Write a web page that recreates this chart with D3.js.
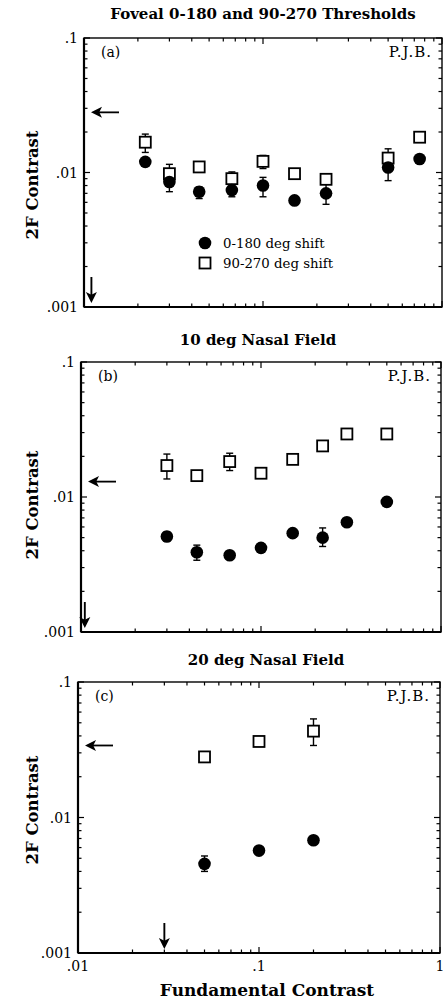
<!DOCTYPE html>
<html>
<head>
<meta charset="utf-8">
<script src="https://cdn.jsdelivr.net/npm/d3@7"></script>
<style>
  html, body { margin: 0; padding: 0; background: #fff; }
  svg { display: block; }
  text { fill: #000; }
</style>
</head>
<body>
<svg id="chart" width="443" height="1000"></svg>
<script>
// ---------- data ----------
const panelTitles = ["Foveal 0-180 and 90-270 Thresholds", "10 deg Nasal Field", "20 deg Nasal Field"];
const panelTags = ["(a)", "(b)", "(c)"];
const observer = "P.J.B.";
const seriesNames = ["0-180 deg shift", "90-270 deg shift"];
const xTickValues = [0.01, 0.1, 1];
const xTickLabels = [".01", ".1", "1"];
const yTickValues = [0.001, 0.01, 0.1];
const yTickLabels = [".001", ".01", ".1"];

// (a) fovea
const fundA = [0.022, 0.03, 0.044, 0.067, 0.1, 0.15, 0.225, 0.5, 0.75];
const shift0A = [0.012, 0.0085, 0.0072, 0.0074, 0.0080, 0.0062, 0.0070, 0.0109, 0.0126];
const shift0LoA = [0.0113, 0.0072, 0.0064, 0.0066, 0.0066, 0.0059, 0.0058, 0.0087, 0.0121];
const shift0HiA = [0.0127, 0.0098, 0.0078, 0.0079, 0.0092, 0.0065, 0.0082, 0.0123, 0.0131];
const shift90A = [0.0168, 0.0098, 0.011, 0.0090, 0.0121, 0.0098, 0.0089, 0.0128, 0.0183];
const shift90LoA = [0.0141, 0.0085, 0.0105, 0.0082, 0.0107, 0.0094, 0.0085, 0.0110, 0.0175];
const shift90HiA = [0.0193, 0.0115, 0.0115, 0.0101, 0.0134, 0.0102, 0.0093, 0.0150, 0.0190];
const thresh2FA = 0.028;
const threshFundA = 0.011;

// (b) 10 deg nasal
const fundB = [0.03, 0.044, 0.067, 0.1, 0.15, 0.22, 0.3, 0.5];
const shift0B = [0.0051, 0.0039, 0.0037, 0.0042, 0.0054, 0.0050, 0.0065, 0.0092];
const shift0LoB = [0.0047, 0.0034, 0.0035, 0.0039, 0.0052, 0.0043, 0.0062, 0.0087];
const shift0HiB = [0.0055, 0.0044, 0.0039, 0.0045, 0.0057, 0.0059, 0.0068, 0.0097];
const shift90B = [0.0171, 0.0144, 0.0183, 0.0150, 0.0190, 0.0239, 0.0293, 0.0293];
const shift90LoB = [0.0136, 0.0135, 0.0157, 0.0145, 0.0183, 0.0229, 0.0283, 0.0283];
const shift90HiB = [0.0208, 0.0152, 0.0211, 0.0155, 0.0197, 0.0249, 0.0303, 0.0303];
const thresh2FB = 0.013;
const threshFundB = 0.0105;

// (c) 20 deg nasal
const fundC = [0.05, 0.1, 0.2];
const shift0C = [0.00455, 0.0057, 0.0068];
const shift0LoC = [0.0040, 0.0054, 0.0065];
const shift0HiC = [0.0052, 0.0060, 0.0071];
const shift90C = [0.028, 0.0364, 0.0434];
const shift90LoC = [0.0268, 0.0350, 0.0340];
const shift90HiC = [0.0292, 0.0380, 0.0534];
const thresh2FC = 0.034;
const threshFundC = 0.03;

// ---------- layout ----------
const panels = [
  { left: 84, right: 442, top: 38, bottom: 307, titleX: 263, titleY: 19, labelY: 185, legend: true,
    x: fundA, s0: shift0A, s0lo: shift0LoA, s0hi: shift0HiA, s90: shift90A, s90lo: shift90LoA, s90hi: shift90HiA,
    t2f: thresh2FA, tf: threshFundA, xLabels: false },
  { left: 81, right: 441, top: 362, bottom: 632, titleX: 258, titleY: 345, labelY: 505, legend: false,
    x: fundB, s0: shift0B, s0lo: shift0LoB, s0hi: shift0HiB, s90: shift90B, s90lo: shift90LoB, s90hi: shift90HiB,
    t2f: thresh2FB, tf: threshFundB, xLabels: false },
  { left: 78, right: 440, top: 682, bottom: 953, titleX: 266, titleY: 665, labelY: 810, legend: false,
    x: fundC, s0: shift0C, s0lo: shift0LoC, s0hi: shift0HiC, s90: shift90C, s90lo: shift90LoC, s90hi: shift90HiC,
    t2f: thresh2FC, tf: threshFundC, xLabels: true }
];

const serif = "'DejaVu Serif', 'Liberation Serif', serif";
const svg = d3.select("#chart");

function arrowHead(g, tipX, tipY, dir) {
  // filled arrowhead; dir = "left" or "down"
  const L = 11, W = 5.5;
  const pts = dir === "left"
    ? [[tipX, tipY], [tipX + L, tipY - W], [tipX + L * 0.75, tipY], [tipX + L, tipY + W]]
    : [[tipX, tipY], [tipX - W, tipY - L], [tipX, tipY - L * 0.75], [tipX + W, tipY - L]];
  g.append("path").attr("d", d3.line()(pts) + "Z").attr("fill", "#000");
}

panels.forEach((p, i) => {
  const x = d3.scaleLog().domain([0.01, 1]).range([p.left, p.right]);
  const y = d3.scaleLog().domain([0.001, 0.1]).range([p.bottom, p.top]);
  const g = svg.append("g");

  // title
  g.append("text").attr("x", p.titleX).attr("y", p.titleY)
    .attr("text-anchor", "middle").attr("font-family", serif)
    .attr("font-weight", "bold").attr("font-size", 15)
    .text(panelTitles[i]);

  // frame
  g.append("rect").attr("x", p.left).attr("y", p.top)
    .attr("width", p.right - p.left).attr("height", p.bottom - p.top)
    .attr("fill", "none").attr("stroke", "#000").attr("stroke-width", 1.4);
  g.append("line").attr("x1", p.left).attr("x2", p.left).attr("y1", p.top).attr("y2", p.bottom)
    .attr("stroke", "#000").attr("stroke-width", 2.2);
  g.append("line").attr("x1", p.left).attr("x2", p.right).attr("y1", p.bottom).attr("y2", p.bottom)
    .attr("stroke", "#000").attr("stroke-width", 2.2);

  // inward ticks on all four sides
  const xt = x.ticks();
  const yt = y.ticks();
  const isMajor = v => Math.abs(Math.log10(v) - Math.round(Math.log10(v))) < 1e-6;
  const tk = g.append("g").attr("stroke", "#000").attr("stroke-width", 1.2);
  xt.forEach(v => {
    const len = isMajor(v) ? 6 : 3.5;
    tk.append("line").attr("x1", x(v)).attr("x2", x(v)).attr("y1", p.bottom).attr("y2", p.bottom - len);
    tk.append("line").attr("x1", x(v)).attr("x2", x(v)).attr("y1", p.top).attr("y2", p.top + len);
  });
  yt.forEach(v => {
    const len = isMajor(v) ? 6 : 3.5;
    tk.append("line").attr("x1", p.left).attr("x2", p.left + len).attr("y1", y(v)).attr("y2", y(v));
    tk.append("line").attr("x1", p.right).attr("x2", p.right - len).attr("y1", y(v)).attr("y2", y(v));
  });

  // y tick labels
  yTickValues.forEach((v, k) => {
    g.append("text").attr("x", p.left - 6).attr("y", y(v) + 5)
      .attr("text-anchor", "end").attr("font-family", serif).attr("font-size", 14)
      .text(yTickLabels[k]);
  });
  if (p.xLabels) {
    xTickValues.forEach((v, k) => {
      g.append("text").attr("x", x(v)).attr("y", p.bottom + 18)
        .attr("text-anchor", "middle").attr("font-family", serif).attr("font-size", 14)
        .text(xTickLabels[k]);
    });
  }

  // y axis title
  g.append("text")
    .attr("transform", `translate(${38},${p.labelY}) rotate(-90)`)
    .attr("text-anchor", "middle").attr("font-family", serif)
    .attr("font-weight", "bold").attr("font-size", 16.5)
    .text("2F Contrast");

  // inner labels
  g.append("text").attr("x", p.left + 17).attr("y", p.top + 19)
    .attr("font-family", serif).attr("font-size", 14).text(panelTags[i]);
  g.append("text").attr("x", p.right - 10).attr("y", p.top + 19)
    .attr("text-anchor", "end").attr("font-family", serif).attr("font-size", 15)
    .attr("letter-spacing", 1).text(observer);

  // threshold arrows
  const ar = g.append("g");
  const ay = y(p.t2f);
  ar.append("line").attr("x1", p.left + 14).attr("x2", p.left + 35).attr("y1", ay).attr("y2", ay)
    .attr("stroke", "#000").attr("stroke-width", 1.8);
  arrowHead(ar, p.left + 7, ay, "left");
  const ax = x(p.tf);
  ar.append("line").attr("x1", ax).attr("x2", ax).attr("y1", p.bottom - 30).attr("y2", p.bottom - 11)
    .attr("stroke", "#000").attr("stroke-width", 1.9);
  arrowHead(ar, ax, p.bottom - 4, "down");

  // error bars
  function errBars(vals, lo, hi) {
    const eb = g.append("g").attr("stroke", "#000").attr("stroke-width", 1.4);
    vals.forEach((v, k) => {
      const cx = x(p.x[k]);
      eb.append("line").attr("x1", cx).attr("x2", cx).attr("y1", y(lo[k])).attr("y2", y(hi[k]));
      eb.append("line").attr("x1", cx - 3.5).attr("x2", cx + 3.5).attr("y1", y(lo[k])).attr("y2", y(lo[k]));
      eb.append("line").attr("x1", cx - 3.5).attr("x2", cx + 3.5).attr("y1", y(hi[k])).attr("y2", y(hi[k]));
    });
  }
  errBars(p.s90, p.s90lo, p.s90hi);
  errBars(p.s0, p.s0lo, p.s0hi);

  // 90-270 deg shift: open squares
  g.append("g").selectAll("rect").data(p.s90).join("rect")
    .attr("x", (d, k) => x(p.x[k]) - 5.5).attr("y", d => y(d) - 5.5)
    .attr("width", 11).attr("height", 11)
    .attr("fill", "#fff").attr("stroke", "#000").attr("stroke-width", 1.8);

  // 0-180 deg shift: filled circles
  g.append("g").selectAll("circle").data(p.s0).join("circle")
    .attr("cx", (d, k) => x(p.x[k])).attr("cy", d => y(d)).attr("r", 6.3)
    .attr("fill", "#000");

  if (p.legend) {
    const lx = 205, ly = 243;
    g.append("circle").attr("cx", lx).attr("cy", ly).attr("r", 6.3).attr("fill", "#000");
    g.append("rect").attr("x", lx - 5.5).attr("y", ly + 20 - 5.5).attr("width", 11).attr("height", 11)
      .attr("fill", "#fff").attr("stroke", "#000").attr("stroke-width", 1.8);
    g.append("text").attr("x", lx + 18).attr("y", ly + 4.5).attr("font-family", serif)
      .attr("font-size", 13.3).text(seriesNames[0]);
    g.append("text").attr("x", lx + 18).attr("y", ly + 24.5).attr("font-family", serif)
      .attr("font-size", 13.3).text(seriesNames[1]);
  }
});

// shared x axis title
svg.append("text").attr("x", 267).attr("y", 996)
  .attr("text-anchor", "middle").attr("font-family", serif)
  .attr("font-weight", "bold").attr("font-size", 17)
  .text("Fundamental Contrast");
</script>
</body>
</html>
